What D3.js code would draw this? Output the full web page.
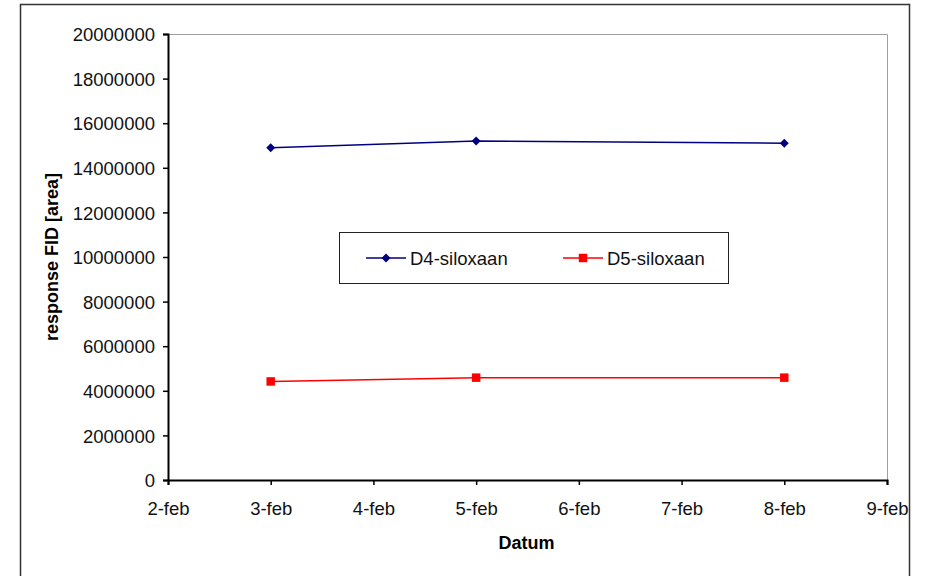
<!DOCTYPE html>
<html>
<head>
<meta charset="utf-8">
<script src="https://cdn.jsdelivr.net/npm/d3@7"></script>
<style>
  body { margin: 0; background: #fff; }
  svg { display: block; font-family: "Liberation Sans", Arial, sans-serif; }
</style>
</head>
<body>
<div class="svg-content"></div>
<script>
// data
var dates = ["3-feb", "5-feb", "8-feb"];
var dayNums = [3, 5, 8];
var d4 = [14900000, 15200000, 15100000];
var d5 = [4420000, 4590000, 4590000];
var xTickLabels = ["2-feb", "3-feb", "4-feb", "5-feb", "6-feb", "7-feb", "8-feb", "9-feb"];
var xTickDays = [2, 3, 4, 5, 6, 7, 8, 9];
var seriesNames = ["D4-siloxaan", "D5-siloxaan"];

var width = 933, height = 576;
var plot = {left: 168, top: 34, right: 887, bottom: 480};

var svg = d3.select(".svg-content").append("svg")
    .attr("width", width)
    .attr("height", height);

// outer chart frame
svg.append("rect")
    .attr("x", 20.5).attr("y", 4.5)
    .attr("width", 889).attr("height", 600)
    .attr("fill", "none")
    .attr("stroke", "#333")
    .attr("stroke-width", 1.5);

var x = d3.scaleLinear().domain([2, 9]).range([plot.left, plot.right]);
var y = d3.scaleLinear().domain([0, 20000000]).range([plot.bottom, plot.top]);

// plot area top/right border
svg.append("path")
    .attr("d", "M" + plot.left + "," + (plot.top + 0.5) + "H" + (plot.right + 0.5) + "V" + plot.bottom)
    .attr("fill", "none")
    .attr("stroke", "#a0a0a0")
    .attr("stroke-width", 1);

var yAxis = d3.axisLeft(y)
    .tickValues(d3.range(0, 20000001, 2000000))
    .tickFormat(d3.format("d"))
    .tickSize(5)
    .tickPadding(8);

var gy = svg.append("g")
    .attr("transform", "translate(" + plot.left + ",0)")
    .call(yAxis);

var xAxis = d3.axisBottom(x)
    .tickValues(xTickDays)
    .tickFormat(function(d, i) { return xTickLabels[i]; })
    .tickSize(5)
    .tickPadding(17);

var gx = svg.append("g")
    .attr("transform", "translate(0," + plot.bottom + ")")
    .call(xAxis);

[gx, gy].forEach(function(g) {
    g.select(".domain").attr("stroke", "#000").attr("stroke-width", 2);
    g.selectAll(".tick line").attr("stroke", "#000").attr("stroke-width", 1.5);
    g.selectAll("text")
        .attr("font-size", 18.5)
        .attr("fill", "#111")
        .style("font-family", "'Liberation Sans', Arial, sans-serif");
});
gy.selectAll("text").attr("dy", "0.36em");

// axis titles
svg.append("text")
    .attr("x", (plot.left + plot.right) / 2 - 1)
    .attr("y", 549)
    .attr("text-anchor", "middle")
    .attr("font-size", 18)
    .attr("font-weight", "bold")
    .text("Datum");

svg.append("text")
    .attr("transform", "translate(58," + ((plot.top + plot.bottom) / 2) + ") rotate(-90)")
    .attr("text-anchor", "middle")
    .attr("font-size", 18)
    .attr("font-weight", "bold")
    .text("response FID [area]");

var line = d3.line()
    .x(function(d) { return x(d[0]); })
    .y(function(d) { return y(d[1]); });

var colors = ["#000080", "#ff0000"];
var diamond = d3.symbol().type(d3.symbolSquare).size(40);
var square = d3.symbol().type(d3.symbolSquare).size(72);

function markerTransform(px, py, s) {
    return "translate(" + px + "," + py + ")" + (s === 0 ? " rotate(45)" : "");
}

[d4, d5].forEach(function(vals, s) {
    var pts = dayNums.map(function(d, i) { return [d, vals[i]]; });
    svg.append("path")
        .datum(pts)
        .attr("d", line)
        .attr("fill", "none")
        .attr("stroke", colors[s])
        .attr("stroke-width", 1.5);
    svg.selectAll(".m" + s)
        .data(pts)
        .enter()
        .append("path")
        .attr("class", "m" + s)
        .attr("transform", function(d) { return markerTransform(x(d[0]), y(d[1]), s); })
        .attr("d", s === 0 ? diamond : square)
        .attr("fill", colors[s]);
});

// legend
var legend = svg.append("g");
legend.append("rect")
    .attr("x", 339.5).attr("y", 232.5)
    .attr("width", 389).attr("height", 51)
    .attr("fill", "#fff")
    .attr("stroke", "#222")
    .attr("stroke-width", 1);

var legendX = [366, 563];
seriesNames.forEach(function(name, s) {
    var lx = legendX[s], ly = 258;
    legend.append("line")
        .attr("x1", lx).attr("x2", lx + 40)
        .attr("y1", ly).attr("y2", ly)
        .attr("stroke", colors[s])
        .attr("stroke-width", 1.5);
    legend.append("path")
        .attr("transform", markerTransform(lx + 20, ly, s))
        .attr("d", s === 0 ? diamond : square)
        .attr("fill", colors[s]);
    legend.append("text")
        .attr("x", lx + 44)
        .attr("y", ly)
        .attr("dy", "0.36em")
        .attr("font-size", 18.5)
        .attr("fill", "#111")
        .text(name);
});
</script>
</body>
</html>
